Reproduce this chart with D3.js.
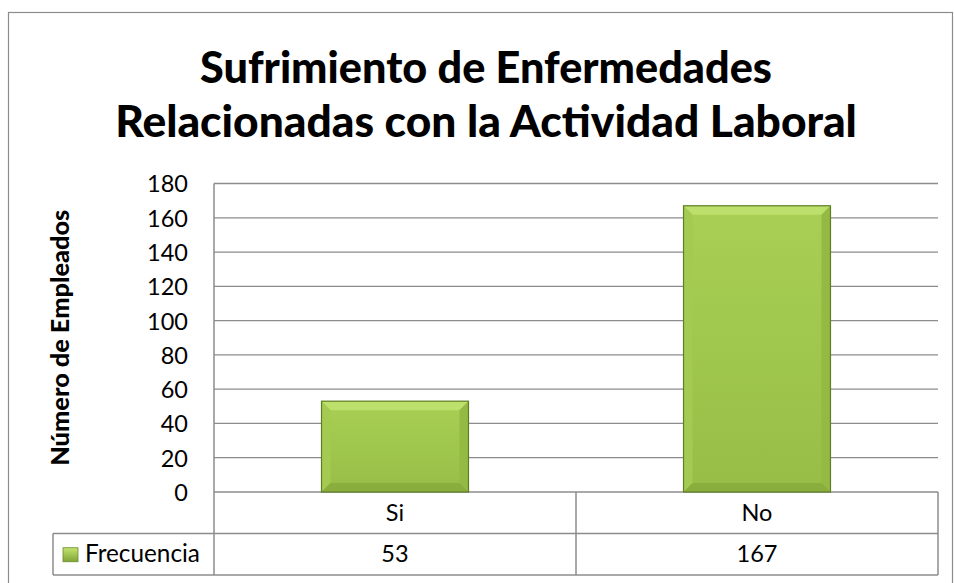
<!DOCTYPE html>
<html>
<head>
<meta charset="utf-8">
<script src="https://cdn.jsdelivr.net/npm/d3@7"></script>
<style>
  body { margin: 0; background: #fff; }
  text { font-family: Lato, "Open Sans", sans-serif; fill: #000; }
</style>
</head>
<body>
<script>
const categories = ['Si', 'No'];
const frecuencia = [53, 167];
const yTicks = [0, 20, 40, 60, 80, 100, 120, 140, 160, 180];
const seriesName = 'Frecuencia';
const titleLines = ['Sufrimiento de Enfermedades', 'Relacionadas con la Actividad Laboral'];
const yLabel = 'Número de Empleados';

const width = 954, height = 583;
const svg = d3.select('body').append('svg')
    .attr('width', width)
    .attr('height', height);

const plot = { left: 214, right: 938, top: 183.5, bottom: 492 };
const rowH = 41.5;
const legendLeft = 53;

// scale a text's font size so that it spans a given width
function fitText(el, size, target) {
    el.style('font-size', size + 'px');
    const w = el.node().getComputedTextLength();
    el.style('font-size', (size * target / w) + 'px');
}

// outer chart frame
svg.append('rect')
    .attr('x', 8.5).attr('y', 12.5)
    .attr('width', 944).attr('height', 600)
    .attr('fill', '#fff')
    .attr('stroke', '#8c8c8c').attr('stroke-width', 1.2);

// title
const title = svg.append('g');
const titleWidths = [572, 742];
titleLines.forEach((t, i) => {
    const el = title.append('text')
        .attr('x', 486).attr('y', 83 + i * 54)
        .attr('text-anchor', 'middle')
        .style('font-weight', '900')
        .text(t);
    fitText(el, 44, titleWidths[i]);
});

const x = d3.scaleBand().domain(categories).range([plot.left, plot.right]).paddingInner(0).paddingOuter(0);
const y = d3.scaleLinear().domain([0, 180]).range([plot.bottom, plot.top]);

// gridlines
svg.append('g').selectAll('line')
    .data(yTicks)
    .enter().append('line')
    .attr('x1', plot.left).attr('x2', plot.right)
    .attr('y1', d => y(d)).attr('y2', d => y(d))
    .attr('stroke', '#8c8c8c').attr('stroke-width', 1.3);

// y axis labels
const yAxis = svg.append('g')
    .attr('transform', 'translate(' + plot.left + ',0)')
    .call(d3.axisLeft(y).tickValues(yTicks).tickSize(0).tickPadding(26));
yAxis.select('.domain').remove();
yAxis.selectAll('text')
    .attr('dy', '0.36em')
    .style('font-family', 'Lato, "Open Sans", sans-serif')
    .style('font-size', '23.5px');

const yTitle = svg.append('text')
    .attr('transform', 'translate(69,' + ((plot.top + plot.bottom) / 2) + ') rotate(-90)')
    .attr('text-anchor', 'middle')
    .style('font-weight', '900')
    .text(yLabel);
fitText(yTitle, 20, 256);

// bar gradients
const defs = svg.append('defs');
const grad = defs.append('linearGradient').attr('id', 'barGrad')
    .attr('x1', 0).attr('y1', 0).attr('x2', 0).attr('y2', 1);
grad.append('stop').attr('offset', '0%').attr('stop-color', '#a9d054');
grad.append('stop').attr('offset', '100%').attr('stop-color', '#97bd47');

const barW = x.bandwidth() * 0.406;
const bev = 9;
const bars = svg.append('g').selectAll('g')
    .data(categories.map((c, i) => ({ c, v: frecuencia[i] })))
    .enter().append('g');

bars.append('rect')
    .attr('x', d => x(d.c) + (x.bandwidth() - barW) / 2)
    .attr('y', d => y(d.v))
    .attr('width', barW)
    .attr('height', d => y(0) - y(d.v))
    .attr('fill', 'url(#barGrad)');

// bevel faces
const face = (d, side) => {
    const x0 = x(d.c) + (x.bandwidth() - barW) / 2, x1 = x0 + barW;
    const y0 = y(d.v), y1 = y(0);
    if (side === 'top') return [[x0, y0], [x1, y0], [x1 - bev, y0 + bev], [x0 + bev, y0 + bev]];
    if (side === 'left') return [[x0, y0], [x0 + bev, y0 + bev], [x0 + bev, y1 - bev], [x0, y1]];
    if (side === 'right') return [[x1, y0], [x1, y1], [x1 - bev, y1 - bev], [x1 - bev, y0 + bev]];
    return [[x0, y1], [x0 + bev, y1 - bev], [x1 - bev, y1 - bev], [x1, y1]];
};
const faceFill = { top: '#bde06c', left: '#a4ca52', right: '#94ba44', bottom: '#8aae3d' };
['top', 'left', 'right', 'bottom'].forEach(side => {
    bars.append('polygon')
        .attr('points', d => face(d, side).map(p => p.join(',')).join(' '))
        .attr('fill', faceFill[side]);
});
bars.append('rect')
    .attr('x', d => x(d.c) + (x.bandwidth() - barW) / 2)
    .attr('y', d => y(d.v))
    .attr('width', barW)
    .attr('height', d => y(0) - y(d.v))
    .attr('fill', 'none')
    .attr('stroke', '#5f7d24').attr('stroke-width', 1.2);

// data table
const tbl = svg.append('g').attr('stroke', '#8c8c8c').attr('stroke-width', 1.5);
tbl.append('line').attr('x1', plot.left).attr('x2', plot.left).attr('y1', plot.top).attr('y2', plot.bottom + 2 * rowH);
tbl.append('line').attr('x1', plot.right).attr('x2', plot.right).attr('y1', plot.bottom).attr('y2', plot.bottom + 2 * rowH);
tbl.append('line').attr('x1', legendLeft).attr('x2', legendLeft).attr('y1', plot.bottom + rowH).attr('y2', plot.bottom + 2 * rowH);
tbl.append('line').attr('x1', legendLeft).attr('x2', plot.right).attr('y1', plot.bottom + rowH).attr('y2', plot.bottom + rowH);
tbl.append('line').attr('x1', legendLeft).attr('x2', plot.right).attr('y1', plot.bottom + 2 * rowH).attr('y2', plot.bottom + 2 * rowH);
categories.slice(1).forEach(c => {
    tbl.append('line').attr('x1', x(c)).attr('x2', x(c)).attr('y1', plot.bottom).attr('y2', plot.bottom + 2 * rowH);
});

const cellSize = 23.5;
svg.append('g').selectAll('text.cat')
    .data(categories)
    .enter().append('text')
    .attr('x', d => x(d) + x.bandwidth() / 2)
    .attr('y', plot.bottom + rowH / 2 + 8)
    .attr('text-anchor', 'middle')
    .style('font-size', cellSize + 'px')
    .text(d => d);

svg.append('g').selectAll('text.val')
    .data(frecuencia)
    .enter().append('text')
    .attr('x', (d, i) => x(categories[i]) + x.bandwidth() / 2)
    .attr('y', plot.bottom + rowH * 1.5 + 8)
    .attr('text-anchor', 'middle')
    .style('font-size', cellSize + 'px')
    .text(d => d);

// legend key
const keyY = plot.bottom + rowH * 1.5 - 6.5;
const kg = defs.append('linearGradient').attr('id', 'keyGrad')
    .attr('x1', 0).attr('y1', 0).attr('x2', 0).attr('y2', 1);
kg.append('stop').attr('offset', '0%').attr('stop-color', '#c3e46f');
kg.append('stop').attr('offset', '100%').attr('stop-color', '#7fa436');
svg.append('rect')
    .attr('x', 63).attr('y', keyY)
    .attr('width', 15).attr('height', 14)
    .attr('fill', 'url(#keyGrad)')
    .attr('stroke', '#6a8a2a').attr('stroke-width', 0.8);
const legText = svg.append('text')
    .attr('x', 85).attr('y', plot.bottom + rowH * 1.5 + 8)
    .text(seriesName);
fitText(legText, 23, 115);
</script>
</body>
</html>
